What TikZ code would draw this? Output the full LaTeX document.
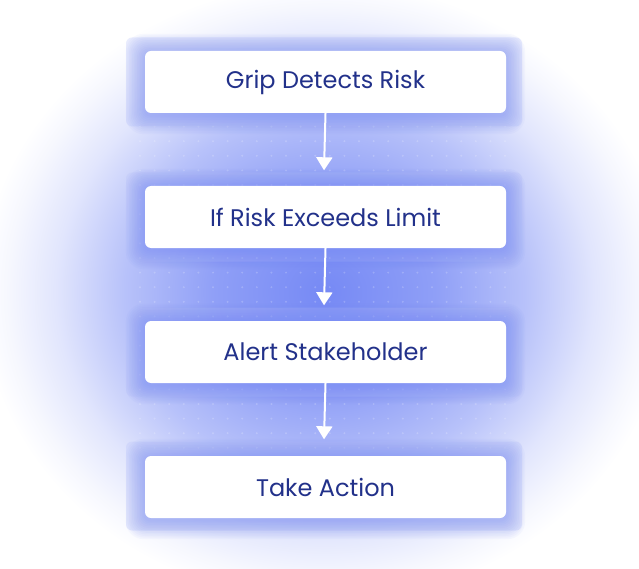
\documentclass[tikz,border=0pt]{standalone}
\usepackage{fontspec}
\setmainfont{Poppins}
\usetikzlibrary{arrows.meta}
\definecolor{navy}{HTML}{22318A}
\definecolor{glowc}{HTML}{6A7FF4}
\definecolor{panelc}{HTML}{B8C2FA}
\colorlet{ga}{glowc!92!white}
\colorlet{gb}{glowc!75!white}
\colorlet{gc}{glowc!48!white}
\colorlet{gd}{glowc!20!white}
\colorlet{ge}{glowc!6!white}
\pgfdeclareradialshading{bgglow}{\pgfpoint{0bp}{0bp}}{color(0bp)=(ga); color(8bp)=(gb); color(14.5bp)=(gc); color(19.5bp)=(gd); color(23bp)=(ge); color(25bp)=(white); color(50bp)=(white)}
\tikzset{
  panel/.style={fill=panelc, fill opacity=0.3, rounded corners=6pt, minimum width=396pt, minimum height=89pt, inner sep=0pt},
  stepbox/.style={fill=white, rounded corners=6pt, minimum width=361pt, minimum height=62pt, inner sep=0pt, text=navy, font=\fontsize{24}{28}\selectfont},
  flow/.style={draw=white, line width=2pt, -{Triangle[width=16pt,length=13pt]}}
}
\begin{document}
\begin{tikzpicture}[x=1pt,y=-1pt]
\useasboundingbox (0,0) rectangle (639,569);
\fill[white] (0,0) rectangle (639,569);
\shade[shading=bgglow] (325,292) ellipse (345 and 310);
% dot grid
\foreach \i in {0,...,25}{
  \foreach \j in {0,...,24}{
    \fill[white, opacity=0.2] (140+\i*14.6, 112+\j*14.6) circle (1.1);
  }
}
% panels
\foreach \n/\yy in {1/82,2/217,3/352,4/486}{
  \node[panel] (p\n) at (324,\yy) {};
}
% box glows
\foreach \yy in {82,217,352,487}{
  \foreach \k in {1,...,12}{
    \fill[glowc, opacity=0.045, rounded corners={6+\k}] (145-\k*1.6,\yy-31-\k*1.6+2) rectangle (506+\k*1.6,\yy+31+\k*1.6+2);
  }
}
\node[stepbox] (b1) at (325.5,82) {Grip Detects Risk};
\node[stepbox] (b2) at (325.5,217) {If Risk Exceeds Limit};
\node[stepbox] (b3) at (325.5,352) {Alert Stakeholder};
\node[stepbox] (b4) at (325.5,487) {Take Action};
\draw[flow] (b1.south) -- ([yshift=2pt]p2.north);
\draw[flow] (b2.south) -- ([yshift=2pt]p3.north);
\draw[flow] (b3.south) -- ([yshift=2pt]p4.north);
\end{tikzpicture}
\end{document}
